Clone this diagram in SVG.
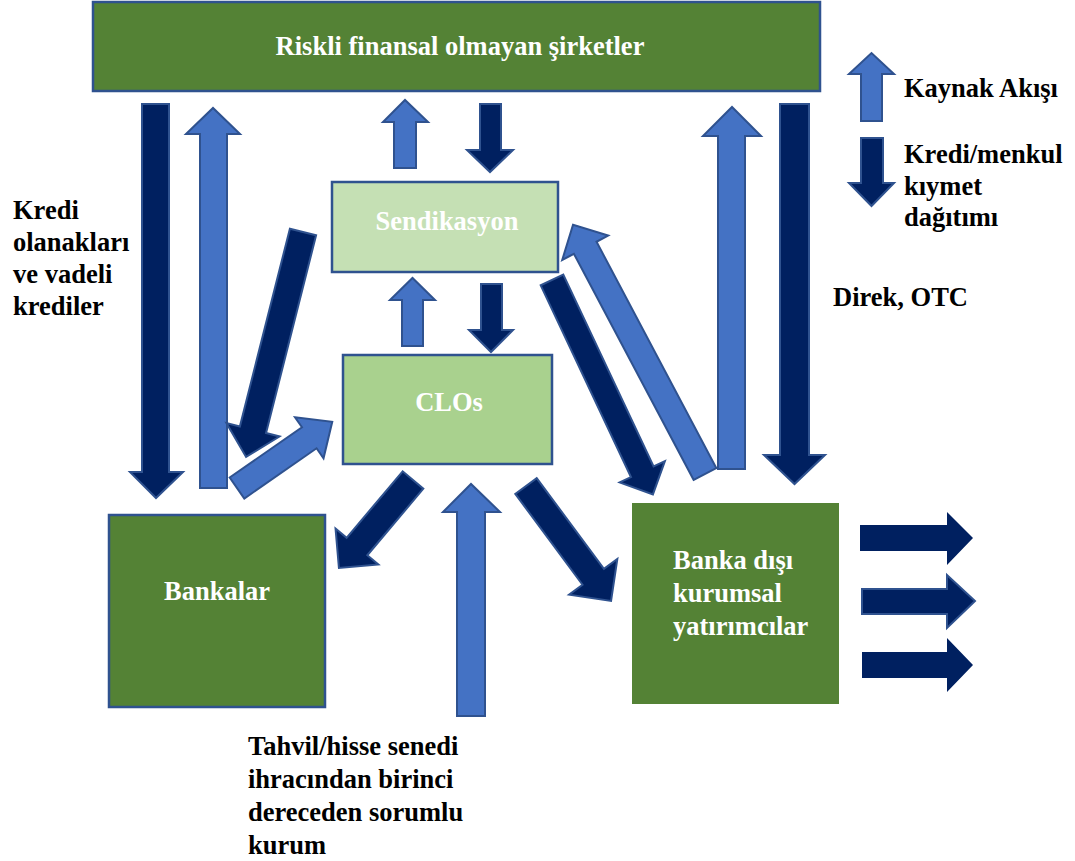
<svg xmlns="http://www.w3.org/2000/svg" width="1075" height="861" viewBox="0 0 1075 861">
  <style>
    .dark { fill: #002060; stroke: #2F528F; stroke-width: 2; stroke-linejoin: miter; }
    .light { fill: #4472C4; stroke: #2F528F; stroke-width: 2; stroke-linejoin: miter; }
    .box { stroke: #2F528F; stroke-width: 2.5; }
    .green { fill: #548235; }
    .ntext { font-family: 'Liberation Serif', 'Tinos', 'DejaVu Serif', serif; font-weight: 700; font-size: 26.5px; fill: #FFFFFF; }
    .label { font-family: 'Liberation Serif', 'Tinos', 'DejaVu Serif', serif; font-weight: 700; font-size: 26.5px; fill: #000000; }
  </style>
  <rect width="1075" height="861" fill="#FFFFFF"/>

  <!-- nodes -->
  <g id="riskli">
    <rect class="box green" x="93" y="2" width="727" height="89"/>
    <text class="ntext" x="460" y="55" text-anchor="middle">Riskli finansal olmayan şirketler</text>
  </g>
  <g id="sendikasyon">
    <rect class="box" fill="#C5E0B4" x="332" y="182" width="226" height="90"/>
    <text class="ntext" x="447" y="230" text-anchor="middle">Sendikasyon</text>
  </g>
  <g id="clos">
    <rect class="box" fill="#A9D18E" x="343" y="355" width="209" height="109"/>
    <text class="ntext" x="449" y="411" text-anchor="middle">CLOs</text>
  </g>
  <g id="bankalar">
    <rect class="box green" x="109" y="515" width="216" height="192"/>
    <text class="ntext" x="217" y="600" text-anchor="middle">Bankalar</text>
  </g>
  <g id="banka-disi">
    <rect class="green" x="632" y="503" width="207" height="201"/>
    <text class="ntext" x="673" y="569">Banka dışı</text>
    <text class="ntext" x="673" y="602">kurumsal</text>
    <text class="ntext" x="673" y="635">yatırımcılar</text>
  </g>

  <!-- connectors -->
  <g id="connectors">
    <!-- left pair: top box <-> banks -->
    <polygon class="dark" points="142,104 169,104 169,472 183,472 156,498 130,472 142,472"/>
    <polygon class="light" points="200,488 227,488 227,134 240,134 213,108 186,134 200,134"/>
    <!-- top box <-> syndication -->
    <polygon class="light" points="394,168 416,168 416,122 428,122 405,100 383,122 394,122"/>
    <polygon class="dark" points="480,104 501,104 501,150 513,150 490,172 467,150 480,150"/>
    <!-- syndication <-> CLOs -->
    <polygon class="light" points="402,346 423,346 423,300 435,300 412.5,278 390,300 402,300"/>
    <polygon class="dark" points="481,284 502,284 502,330 513,330 491,352 469,330 481,330"/>
    <!-- right pair: top box <-> non-bank investors -->
    <polygon class="light" points="718,469 745,469 745,136 761,136 732,107 703,136 718,136"/>
    <polygon class="dark" points="780,104 809,104 809,455 825,455 794.5,484 764,455 780,455"/>
    <!-- issuer -> CLOs -->
    <polygon class="light" points="457,716 485,716 485,512 500,512 471,484 443,512 457,512"/>

    <!-- syndication -> banks -->
    <polygon class="dark" transform="translate(303,232) rotate(104.2)" points="0,-13.5 204,-13.5 204,-27.4 232,0 204,27.4 204,13.5 0,13.5"/>
    <!-- banks -> CLOs -->
    <polygon class="light" transform="translate(237,488) rotate(-34.8)" points="0,-12.8 88,-12.8 88,-25 116,0 88,25 88,12.8 0,12.8"/>
    <!-- non-bank investors -> syndication -->
    <polygon class="light" transform="translate(705,474) rotate(-117.9)" points="0,-12.8 256,-12.8 256,-26 282,0 256,26 256,12.8 0,12.8"/>
    <!-- syndication -> non-bank investors -->
    <polygon class="dark" transform="translate(552,280) rotate(64.8)" points="0,-12.5 212,-12.5 212,-25 237,0 212,25 212,12.5 0,12.5"/>
    <!-- CLOs -> banks -->
    <polygon class="dark" transform="translate(413,480) rotate(130.1)" points="0,-13.5 87,-13.5 87,-28 115,0 87,28 87,13.5 0,13.5"/>
    <!-- CLOs -> non-bank investors -->
    <polygon class="dark" transform="translate(526,486) rotate(53.5)" points="0,-13.3 113,-13.3 113,-30 143,0 113,30 113,13.3 0,13.3"/>

    <!-- outflows from non-bank investors -->
    <polygon fill="#002060" points="860,525 947,525 947,512 973,538 947,565 947,551 860,551"/>
    <polygon class="dark" points="862,589 947,589 947,575 975,601 947,628 947,614 862,614"/>
    <polygon fill="#002060" points="862,652 947,652 947,638 973,665 947,692 947,678 862,678"/>
  </g>

  <!-- legend -->
  <g id="legend">
    <polygon class="light" points="861,121 882,121 882,74 894,74 871.5,53 849,74 861,74"/>
    <polygon class="dark" points="861,138 883,138 883,183 894,183 871.5,206 849,183 861,183"/>
    <text class="label" x="904" y="97">Kaynak Akışı</text>
    <text class="label" x="904" y="163">Kredi/menkul</text>
    <text class="label" x="904" y="195">kıymet</text>
    <text class="label" x="904" y="226">dağıtımı</text>
  </g>

  <!-- side labels -->
  <g id="labels">
    <text class="label" x="13" y="219">Kredi</text>
    <text class="label" x="13" y="251">olanakları</text>
    <text class="label" x="13" y="283">ve vadeli</text>
    <text class="label" x="13" y="315">krediler</text>
    <text class="label" x="833" y="306">Direk, OTC</text>
    <text class="label" x="248" y="755">Tahvil/hisse senedi</text>
    <text class="label" x="248" y="788">ihracından birinci</text>
    <text class="label" x="248" y="821">dereceden sorumlu</text>
    <text class="label" x="248" y="854">kurum</text>
  </g>
</svg>
